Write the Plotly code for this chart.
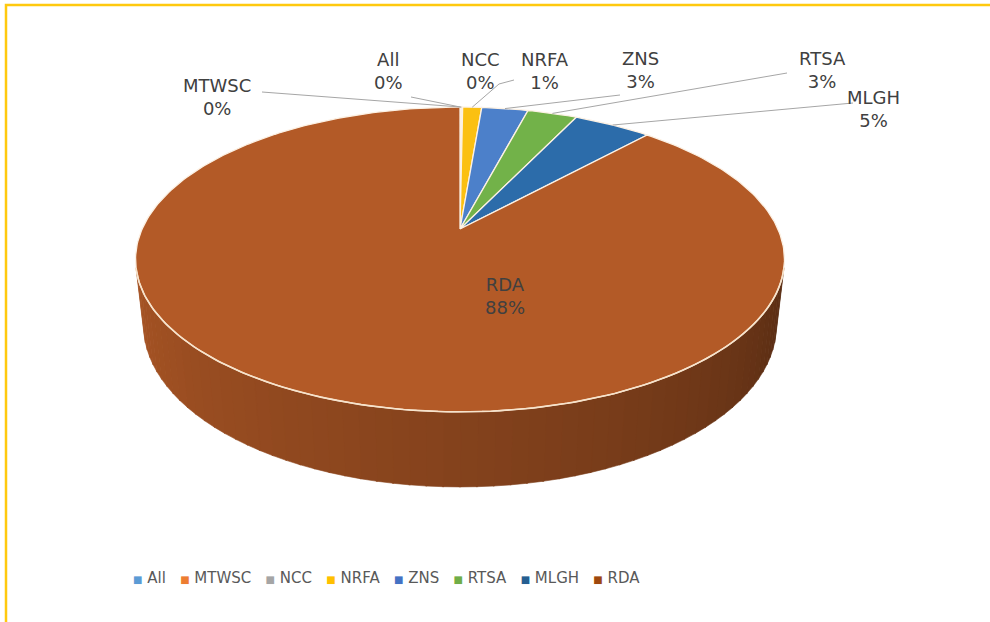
import numpy as np
import plotly.graph_objects as go

# ---------------- data ----------------
categories = ["All", "MTWSC", "NCC", "NRFA", "ZNS", "RTSA", "MLGH", "RDA"]
values = [0.06, 0.05, 0.05, 1.15, 2.8, 3.0, 4.7, 88.19]

# ---------------- style ----------------
legend_colors = ["#5B9BD5", "#ED7D31", "#A5A5A5", "#FFC000", "#4472C4", "#70AD47", "#255E91", "#9E480E"]
face_colors = ["#6AA6DC", "#F08A3E", "#B5B5B5", "#FBC012", "#4C80CA", "#72B249", "#2C6CAA", "#B35A27"]
label_pos = [(388, 71), (217, 97), (480, 71), (545, 71), (640, 70), (822, 70), (873, 109), (505, 296)]
leader_start = [[(411, 97)], [(262, 92)], None, [(514, 80), (499, 84)], [(620, 95)], [(787, 73)], [(853, 103)], None]
FONT = "Tahoma, Verdana, DejaVu Sans, sans-serif"

# 3D camera used to project the pie (pixel space)
CX, CY = 460.0, 229.0
F, D = 1411.0, 4.4385
ALPHA = np.radians(27.4)
H = 0.235


def proj(theta, z):
    theta = np.asarray(theta, dtype=float)
    c, s = np.cos(ALPHA), np.sin(ALPHA)
    qx = np.sin(theta)
    qy = np.cos(theta) + D * c
    qz = z - D * s
    depth = qy * c - qz * s
    up = qy * s + qz * c
    return CX + F * qx / depth, CY - F * up / depth


def hex2rgb(h):
    h = h.lstrip("#")
    return [int(h[i:i + 2], 16) for i in (0, 2, 4)]


total = float(sum(values))
fracs = [v / total for v in values]
edges = np.concatenate([[0.0], np.cumsum(fracs)]) * 2 * np.pi

fig = go.Figure()

# ---- side wall (visible front part) ----
thr = np.arccos(-1.0 / (D * np.cos(ALPHA)))
tmin, tmax = thr, 2 * np.pi - thr
steps = np.linspace(tmin, tmax, 61)
for k in range(len(steps) - 1):
    a0, a1 = steps[k], steps[k + 1]
    mid = 0.5 * (a0 + a1)
    idx = int(np.searchsorted(edges, mid, side="right") - 1)
    idx = min(max(idx, 0), len(values) - 1)
    t = (mid - tmin) / (tmax - tmin)
    fac = 0.48 + 0.45 * t ** 0.8
    rgb = [int(min(255, c * fac)) for c in hex2rgb(face_colors[idx])]
    col = "rgb(%d,%d,%d)" % tuple(rgb)
    th = np.linspace(a0 - 0.002, a1 + 0.002, 4)
    xt, yt = proj(th, 0.0)
    xb, yb = proj(th[::-1], -H)
    fig.add_trace(go.Scatter(
        x=np.concatenate([xt, xb, xt[:1]]), y=np.concatenate([yt, yb, yt[:1]]),
        mode="lines", fill="toself", fillcolor=col, line=dict(color=col, width=0.6),
        hoverinfo="skip", showlegend=False))

# ---- top face slices ----
for i, name in enumerate(categories):
    a0, a1 = edges[i], edges[i + 1]
    n = max(2, int(np.degrees(a1 - a0)) + 2)
    th = np.linspace(a0, a1, n)
    xa, ya = proj(th, 0.0)
    xs = np.concatenate([[CX], xa, [CX]])
    ys = np.concatenate([[CY], ya, [CY]])
    fig.add_trace(go.Scatter(
        x=xs, y=ys, mode="lines", fill="toself", fillcolor=face_colors[i],
        line=dict(color="#FCF1E4", width=1.3), hoverinfo="skip", showlegend=False, name=name))

# rim highlight along the visible front edge
th = np.linspace(tmin, tmax, 120)
xr, yr = proj(th, 0.0)
fig.add_trace(go.Scatter(x=xr, y=yr, mode="lines", line=dict(color="#F7E3CB", width=1.6),
                         hoverinfo="skip", showlegend=False))

# ---- leader lines ----
for i, st in enumerate(leader_start):
    if st is None:
        continue
    mid = 0.5 * (edges[i] + edges[i + 1])
    ex, ey = proj(mid, 0.0)
    xs = [p[0] for p in st] + [float(ex)]
    ys = [p[1] for p in st] + [float(ey)]
    fig.add_trace(go.Scatter(x=xs, y=ys, mode="lines", line=dict(color="#A6A6A6", width=1),
                             hoverinfo="skip", showlegend=False))

# ---- data labels ----
for i, name in enumerate(categories):
    pct = "%d%%" % round(fracs[i] * 100)
    fig.add_annotation(x=label_pos[i][0], y=label_pos[i][1], xref="x", yref="y",
                       text=name + "<br>" + pct, showarrow=False,
                       font=dict(family=FONT, size=18, color="#404040"),
                       xanchor="center", yanchor="middle", align="center")

# ---- legend ----
sep = "\u00a0" * 3
parts = []
for i, name in enumerate(categories):
    parts.append('<span style="color:%s;font-size:10px">\u25A0</span>\u00a0%s' % (legend_colors[i], name))
fig.add_annotation(x=386, y=578, xref="x", yref="y", text=sep.join(parts), showarrow=False,
                   font=dict(family=FONT, size=15, color="#595959"), xanchor="center", yanchor="middle")

# ---- chart frame (yellow) ----
fig.add_shape(type="path", path="M 6 640 L 6 5 L 1000 5", xref="x", yref="y",
              line=dict(color="#FFC90E", width=2.5))

fig.update_layout(
    width=990, height=622, margin=dict(l=0, r=0, t=0, b=0),
    paper_bgcolor="white", plot_bgcolor="white",
    xaxis=dict(range=[0, 990], visible=False, fixedrange=True),
    yaxis=dict(range=[622, 0], visible=False, fixedrange=True),
    showlegend=False,
)

fig.write_html("out.html", config={"displayModeBar": False, "staticPlot": True},
               post_script="document.body.style.margin='0';")
